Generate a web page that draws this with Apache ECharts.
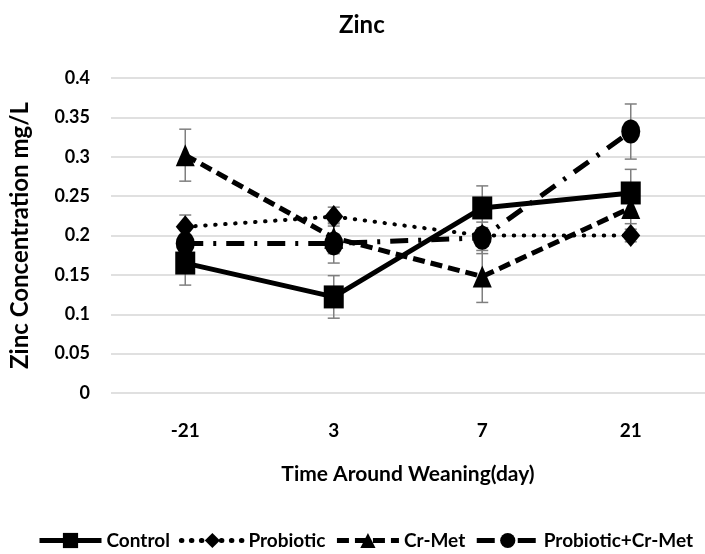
<!DOCTYPE html>
<html>
<head>
<meta charset="utf-8">
<script src="https://cdn.jsdelivr.net/npm/echarts@6/dist/echarts.min.js"></script>
<style>
  html, body { margin: 0; padding: 0; background: #fff; }
  #main { width: 705px; height: 554px; }
</style>
</head>
<body>
<div id="main"></div>
<script>
// data
var categories = ['-21', '3', '7', '21']
var seriesNames = ['Control', 'Probiotic', 'Cr-Met', 'Probiotic+Cr-Met']
var control = [0.165, 0.122, 0.235, 0.254]
var controlErr = [0.028, 0.027, 0.028, 0.03]
var probiotic = [0.211, 0.224, 0.2, 0.2]
var probioticErr = [0.015, 0.012, 0.01, 0.008]
var crMet = [0.302, 0.197, 0.148, 0.235]
var crMetErr = [0.033, 0.02, 0.033, 0.02]
var combo = [0.19, 0.19, 0.197, 0.332]
var comboErr = [0.02, 0.025, 0.02, 0.035]
var yTicks = [0, 0.05, 0.1, 0.15, 0.2, 0.25, 0.3, 0.35, 0.4]

var font = 'Lato'
var myChart = echarts.init(document.getElementById('main'))

function errData (vals, errs) {
  return vals.map(function (v, i) { return [i, v - errs[i], v + errs[i]] })
}

// vertical error bar with caps
function renderErr (params, api) {
  var x = api.value(0)
  var lo = api.coord([x, api.value(1)])
  var hi = api.coord([x, api.value(2)])
  var hw = 6
  var st = { stroke: '#7f7f7f', lineWidth: 1.5 }
  return {
    type: 'group',
    children: [
      { type: 'line', shape: { x1: lo[0], y1: lo[1], x2: hi[0], y2: hi[1] }, style: st },
      { type: 'line', shape: { x1: lo[0] - hw, y1: lo[1], x2: lo[0] + hw, y2: lo[1] }, style: st },
      { type: 'line', shape: { x1: hi[0] - hw, y1: hi[1], x2: hi[0] + hw, y2: hi[1] }, style: st }
    ]
  }
}

function errSeries (vals, errs) {
  return {
    type: 'custom',
    renderItem: renderErr,
    data: errData(vals, errs),
    z: 1,
    silent: true
  }
}

function lineSeries (name, vals, symbol, size, lineStyle) {
  return {
    name: name,
    type: 'line',
    data: vals,
    symbol: symbol,
    symbolSize: size,
    showAllSymbol: true,
    z: 3,
    itemStyle: { color: '#000' },
    lineStyle: Object.assign({ color: '#000' }, lineStyle),
    emphasis: { disabled: true }
  }
}

var option = {
  animation: false,
  title: {
    text: 'Zinc',
    left: 334,
    top: 8,
    textStyle: { fontFamily: font, fontWeight: 'bold', fontSize: 24, color: '#000' }
  },
  legend: {
    data: seriesNames,
    left: 32,
    top: 526,
    itemWidth: 62,
    itemHeight: 19,
    itemGap: 9,
    lineStyle: { width: 5 },
    textStyle: { fontFamily: font, fontWeight: 'bold', fontSize: 19, color: '#000' }
  },
  grid: { left: 102, right: -6, top: 78, bottom: 161 },
  xAxis: {
    type: 'category',
    data: categories,
    boundaryGap: true,
    name: 'Time Around Weaning(day)',
    nameLocation: 'middle',
    nameGap: 71,
    nameTextStyle: { fontFamily: font, fontWeight: 'bold', fontSize: 21, color: '#000' },
    axisLine: { show: false },
    axisTick: { show: false },
    axisLabel: { margin: 28, fontFamily: font, fontWeight: 'bold', fontSize: 19, color: '#000' }
  },
  yAxis: {
    type: 'value',
    min: yTicks[0],
    max: yTicks[yTicks.length - 1],
    interval: 0.05,
    name: 'Zinc Concentration mg/L',
    nameLocation: 'middle',
    nameGap: 79,
    nameTextStyle: { fontFamily: font, fontWeight: 'bold', fontSize: 24, color: '#000' },
    axisLine: { show: false },
    axisTick: { show: false },
    axisLabel: { margin: 21, fontFamily: font, fontWeight: 'bold', fontSize: 18, color: '#000' },
    splitLine: { lineStyle: { color: '#d6d6d6', width: 1.5 } }
  },
  series: [
    errSeries(control, controlErr),
    errSeries(probiotic, probioticErr),
    errSeries(crMet, crMetErr),
    errSeries(combo, comboErr),
    lineSeries('Control', control, 'rect', [20, 23], { width: 5, type: 'solid' }),
    lineSeries('Probiotic', probiotic, 'diamond', [19, 23], { width: 4, type: [0.5, 9.5], cap: 'round' }),
    lineSeries('Cr-Met', crMet, 'triangle', [19, 22], { width: 5, type: [12, 6] }),
    lineSeries('Probiotic+Cr-Met', combo, 'circle', [19, 24], { width: 5, type: [18, 10, 3, 10] })
  ]
}

myChart.setOption(option)
</script>
</body>
</html>
